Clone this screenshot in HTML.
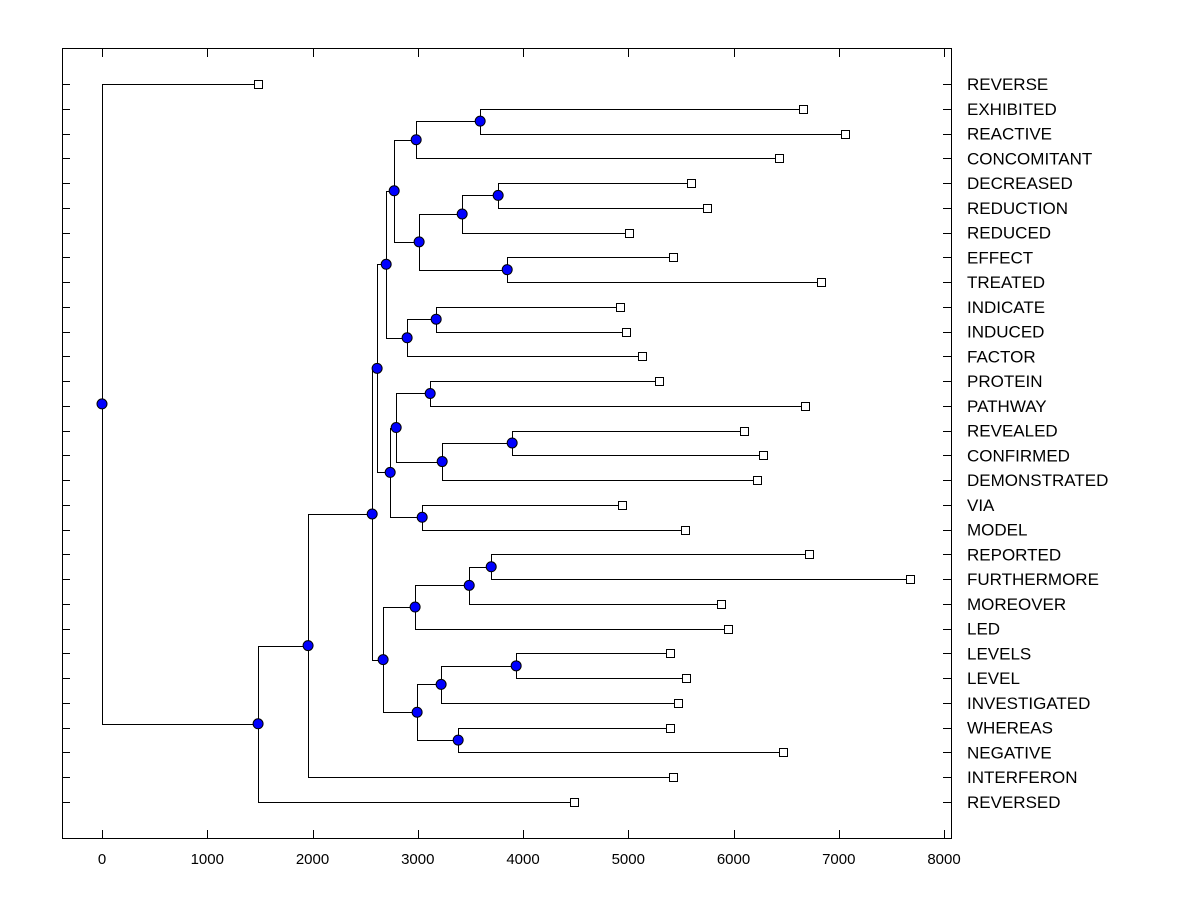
<!DOCTYPE html>
<html><head><meta charset="utf-8"><style>
body{margin:0;background:#fff}
svg{display:block}
text{font-family:"Liberation Sans",Arial,sans-serif;fill:#000}
</style></head><body>
<svg id="chart" width="1200" height="900" xmlns="http://www.w3.org/2000/svg">
<rect x="62.5" y="48.5" width="889" height="790" fill="none" stroke="#000" stroke-width="1"/>
</svg>
<script>
const leafNames=["REVERSE","EXHIBITED","REACTIVE","CONCOMITANT","DECREASED","REDUCTION","REDUCED","EFFECT","TREATED","INDICATE","INDUCED","FACTOR","PROTEIN","PATHWAY","REVEALED","CONFIRMED","DEMONSTRATED","VIA","MODEL","REPORTED","FURTHERMORE","MOREOVER","LED","LEVELS","LEVEL","INVESTIGATED","WHEREAS","NEGATIVE","INTERFERON","REVERSED"];
const leafValues=[1483,6663,7063,6435,5600,5751,5010,5428,6835,4924,4981,5133,5295,6682,6103,6283,6226,4943,5542,6720,7681,5884,5951,5399,5551,5475,5399,6473,5428,4487];
const mergeIds=["a","b","c","d","e","f","g","h","i","j","k","l","m","n","o","p","q","r","s","t","u","v","w","x","y","z","A","B","C"];
const mergeLeft=[1,"a",4,"c",7,"d","b",9,"h","g",12,14,"l","k",17,"n","j",19,"r","s",23,"u",26,"v","t","q","z","A",0];
const mergeRight=[2,3,5,6,8,"e","f",10,11,"i",13,15,16,"m",18,"o","p",20,21,22,24,25,27,"w","x","y",28,29,"B"];
const mergeHeights=[3593,2985,3764,3422,3850,3013,2776,3175,2899,2700,3118,3897,3232,2795,3042,2738,2614,3698,3489,2975,3935,3222,3384,2994,2671,2567,1958,1483,0];
const xTicks=[0,1000,2000,3000,4000,5000,6000,7000,8000];

const NS="http://www.w3.org/2000/svg";
const svg=document.getElementById("chart");
const xs=v=>102+v*0.10525;
const ys=i=>84+i*24.758;
function mk(tag,attrs,parent){const e=document.createElementNS(NS,tag);for(const k in attrs)e.setAttribute(k,attrs[k]);(parent||svg).appendChild(e);return e;}

xTicks.forEach(t=>{
  const x=Math.round(xs(t))+0.5;
  const b=mk("line",{x1:x,x2:x,y1:838,y2:830,stroke:"#000"});
  
  
  const tp=mk("line",{x1:x,x2:x,y1:49,y2:57,stroke:"#000"});
  
  
  const l=mk("text",{x:xs(t),y:864,"text-anchor":"middle","font-size":"15"});
  l.textContent=t;
  
  
});
leafNames.forEach((n,i)=>{
  const y=Math.round(ys(i))+0.5;
  const a=mk("line",{x1:62,x2:70,y1:y,y2:y,stroke:"#000"});
  
  
  const b=mk("line",{x1:943,x2:951,y1:y,y2:y,stroke:"#000"});
  
  
  const t=mk("text",{x:967,y:ys(i)+6,"font-size":"17"});
  t.textContent=n;
  
  
});

const pos={};
leafValues.forEach((v,i)=>{pos[i]={x:xs(v),y:ys(i)};});
const g1=mk("g",{});const g2=mk("g",{});
mergeIds.forEach((id,k)=>{
  const A=pos[mergeLeft[k]],B=pos[mergeRight[k]];
  const x=xs(mergeHeights[k]);
  const y=(A.y+B.y)/2;
  pos[id]={x,y};
  const p=mk("path",{d:`M${A.x},${Math.round(A.y)+0.5}H${Math.round(x)+0.5}V${Math.round(B.y)+0.5}H${B.x}`,fill:"none",stroke:"#000","stroke-width":1},g1);
  
  
});
leafValues.forEach((v,i)=>{
  const r=mk("rect",{x:Math.round(xs(v))-3.5,y:Math.round(ys(i))-3.5,width:8,height:8,fill:"#fff",stroke:"#000"},g2);
  
  
});
mergeIds.forEach(id=>{
  const c=mk("circle",{cx:pos[id].x,cy:pos[id].y,r:5,fill:"#0000ff",stroke:"#000","stroke-width":1},g2);
  
  
});
</script>
</body></html>
